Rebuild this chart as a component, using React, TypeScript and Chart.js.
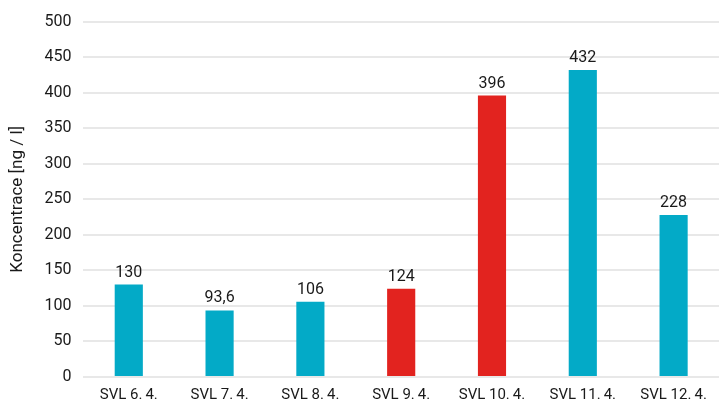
import React, { useEffect, useRef } from "react";
import { Chart, registerables } from "chart.js";

Chart.register(...registerables);

const categories = ["SVL 6.\u20094.", "SVL 7.\u20094.", "SVL 8.\u20094.", "SVL 9.\u20094.", "SVL 10.\u20094.", "SVL 11.\u20094.", "SVL 12.\u20094."];
const values = [130, 93.6, 106, 124, 396, 432, 228];
const valueLabels = ["130", "93,6", "106", "124", "396", "432", "228"];
const highlighted = [false, false, false, true, true, false, false];

const CYAN = "#03aac7";
const RED = "#e2231f";
const TEXT = "#1a1a1a";

const valueLabelPlugin = {
  id: "valueLabels",
  afterDatasetsDraw(chart: any) {
    const ctx = chart.ctx;
    const meta = chart.getDatasetMeta(0);
    ctx.save();
    ctx.font = "16px Roboto";
    ctx.fillStyle = TEXT;
    ctx.textAlign = "center";
    ctx.textBaseline = "bottom";
    meta.data.forEach((bar: any, i: number) => {
      ctx.fillText(valueLabels[i], bar.x, bar.y - 4);
    });
    ctx.restore();
  },
};

export default function App() {
  const canvasRef = useRef<HTMLCanvasElement>(null);

  useEffect(() => {
    if (!canvasRef.current) return;
    const chart = new Chart(canvasRef.current, {
      type: "bar",
      data: {
        labels: categories,
        datasets: [
          {
            data: values,
            backgroundColor: highlighted.map((h) => (h ? RED : CYAN)),
            barPercentage: 0.62,
            categoryPercentage: 0.5,
          },
        ],
      },
      options: {
        animation: false,
        responsive: false,
        layout: { padding: { top: 18, right: 0, left: 8, bottom: 0 } },
        plugins: { legend: { display: false }, tooltip: { enabled: false } },
        scales: {
          x: {
            grid: { display: false },
            border: { display: false },
            ticks: { color: TEXT, font: { family: "Roboto", size: 15 }, padding: 1, maxRotation: 0 },
          },
          y: {
            min: 0,
            max: 500,
            ticks: { stepSize: 50, color: TEXT, font: { family: "Roboto", size: 16 }, padding: 12 },
            grid: { color: "#e8e8e8", lineWidth: 2, drawTicks: false },
            border: { display: false },
            title: {
              display: true,
              text: "Koncentrace [ng / l]",
              color: TEXT,
              font: { family: "Roboto", size: 17 },
              padding: { top: 0, bottom: 4 },
            },
          },
        },
      },
      plugins: [valueLabelPlugin],
    });
    return () => chart.destroy();
  }, []);

  return (
    <div style={{ position: "fixed", left: 0, top: 0, width: 719, height: 405, background: "#fff" }}>
      <canvas ref={canvasRef} width={719} height={405} />
    </div>
  );
}
